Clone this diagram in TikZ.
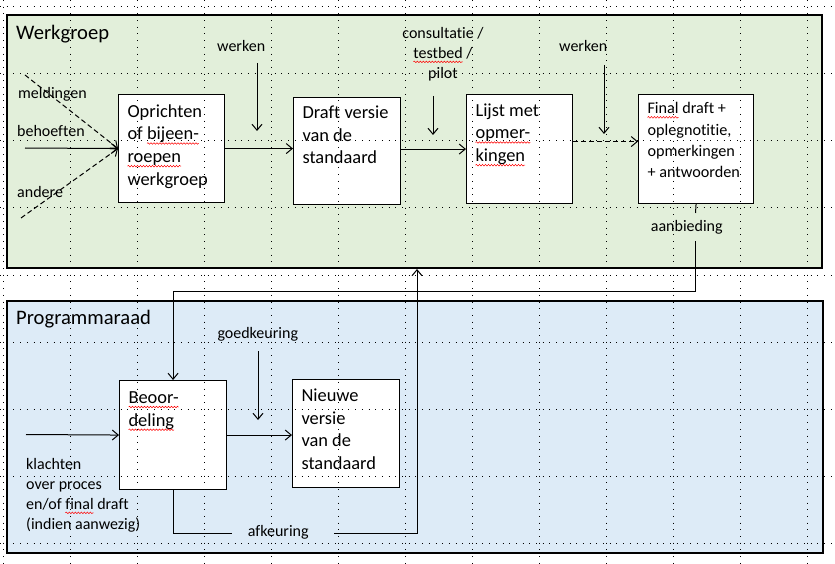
\documentclass[tikz,border=0pt]{standalone}
\usepackage{fontspec}
\setmainfont{Carlito}[Ligatures=NoCommon]
\usepackage{xcolor}
\usetikzlibrary{arrows.meta,decorations.pathmorphing}

\definecolor{groen}{HTML}{E2EFDA}
\definecolor{blauw}{HTML}{DDEBF7}

\newcommand{\sq}[1]{\tikz[baseline=(s.base)]{\node[inner sep=0pt,outer sep=0pt,draw=none,fill=none,anchor=base] (s) {#1};
	\draw[overlay,red,solid,line width=0.5pt,decorate,decoration={snake,segment length=3pt,amplitude=0.8pt}] ([yshift=-3.5pt]s.base west) -- ([yshift=-3.5pt]s.base east);}}
\newcommand{\intxt}[4]{\parbox[c][#1pt][t]{#2pt}{\raggedright\rule{0pt}{#3pt}#4}}

\begin{document}
\begin{tikzpicture}[x=1pt,y=-1pt,
		>={Straight Barb[length=6pt,width=10pt]},
		panel/.style={draw,line width=1.1pt},
		box/.style={draw,fill=white,line width=1.1pt,anchor=north west,inner xsep=9pt,inner ysep=0pt,font=\fontsize{18.4}{22.7}\selectfont},
		lbl/.style={anchor=base west,inner sep=0pt,font=\fontsize{16}{20}\selectfont},
		titel/.style={anchor=base west,inner sep=0pt,font=\fontsize{20.6}{25}\selectfont},
		lijn/.style={line width=1pt},
		pijl/.style={->,line width=1pt},
		streep/.style={dash pattern=on 5pt off 3pt},
		raster/.style={line width=1pt,dash pattern=on 1pt off 5.7pt}]
		\useasboundingbox (0,0) rectangle (835,564);
		\draw[panel,fill=groen] (7,15) rectangle (822,268);
		\draw[panel,fill=blauw] (7,301) rectangle (823,553);
		\node[titel] (wg) at (16,39.3) {Werkgroep};
		\node[titel] (pr) at (16,324.3) {Programmaraad};

		\node[box] (opr) at (118,94) {\intxt{108}{88}{22.7}{Oprichten\\of \sq{bijeen-}\\\sq{roepen}\\werkgroep}};
		\node[box] (draft) at (293,97) {\intxt{107}{89}{21}{Draft versie\\van de\\standaard}};
		\node[box] (lijst) at (466,94) {\intxt{109}{88}{21.7}{Lijst met\\\sq{opmer-}\\\sq{kingen}}};
		\node[box,font=\fontsize{16.2}{21.2}\selectfont] (final) at (638,94) {\intxt{109}{97}{19.3}{\sq{Final} draft +\\oplegnotitie,\\opmerkingen\\+ antwoorden}};
		\node[box] (beo) at (119,380) {\intxt{109}{89}{23}{\sq{Beoor-}\\\sq{deling}}};
		\node[box] (nieuw) at (292,379) {\intxt{108}{89}{22}{Nieuwe\\versie\\van de\\standaard}};

		\node[lbl] (meldl) at (18,99) {meldingen};
		\node[lbl] (behoefl) at (17,137) {behoeften};
		\node[lbl] (andl) at (17,198) {andere};
		\node[lbl] (werk1) at (217,52) {werken};
		\node[lbl,anchor=base,align=center] (cons) at (443,78.3) {consultatie /\\\sq{testbed} /\\pilot};
		\node[lbl] (werk2) at (559,52) {werken};
		\node[lbl] (aanb) at (650.7,231) {aanbieding};
		\node[lbl] (goed) at (217.3,338.3) {goedkeuring};
		\node[lbl] (afk) at (247.7,536.7) {afkeuring};
		\node[lbl,align=left] (klacht) at (26,529.3) {klachten\\over proces\\en/of \sq{final} draft\\(indien aanwezig)};

		\coordinate (meld) at (25,75);
		\coordinate (behoef) at (25,148);
		\coordinate (andr) at (21,218);
		\coordinate (w1a) at (257,63);
		\coordinate (w1b) at (257,131);
		\coordinate (ca) at (433,96);
		\coordinate (cb) at (433,135);
		\coordinate (w2a) at (604,65);
		\coordinate (w2b) at (604,134);
		\coordinate (ga) at (258,351);
		\coordinate (gb) at (258,420);
		\coordinate (aanba) at (695.5,213);
		\coordinate (aanbb) at (695.5,241);
		\coordinate (aanbc) at (695.5,291);
		\coordinate (afkl) at (232,533);
		\coordinate (afkr) at (334,533);
		\coordinate (afke) at (417,269);
		\coordinate (kl) at (26,434.5);

		\draw[pijl,streep] (meld) -- (opr.west);
		\draw[pijl] (behoef) -- (opr.west);
		\draw[pijl,streep] (andr) -- (opr.west);
		\draw[pijl] (opr.east) -- (opr.east -| draft.west);
		\draw[pijl] (draft.east |- lijst.west) -- (lijst.west);
		\draw[pijl,streep] ([yshift=7.5pt]lijst.east) -- ([yshift=7.5pt]lijst.east -| final.west);
		\draw[pijl] (w1a) -- (w1b);
		\draw[pijl] (ca) -- (cb);
		\draw[pijl] (w2a) -- (w2b);
		\draw[lijn] (final.south) -- (aanba);
		\draw[pijl] (aanbb) -- (aanbc) -| (beo.north);
		\draw[pijl] (kl) -- (beo.west);
		\draw[pijl] (beo.east) -- (beo.east -| nieuw.west);
		\draw[pijl] (ga) -- (gb);
		\draw[lijn] (beo.south) |- (afkl);
		\draw[pijl] (afkr) -| (afke);

		\foreach \i in {0,...,12}
		{
		\draw[raster] (3.3+67*\i,0) to (3.3+67*\i,564);
		}
		\foreach \j in {0,...,8}
		{
		\draw[raster] (0,7+67*\j) to (835,7+67*\j);
		}
	\end{tikzpicture}
\end{document}
